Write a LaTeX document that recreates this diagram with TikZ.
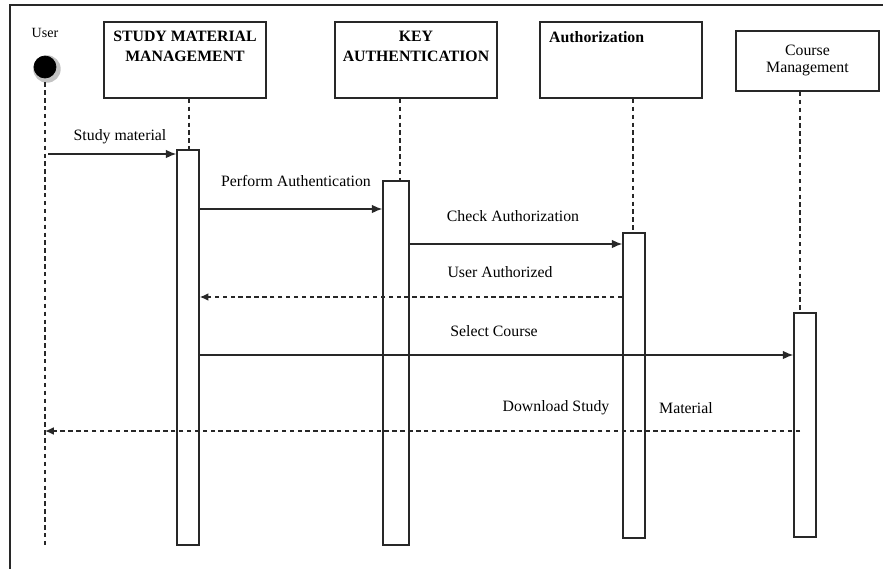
\documentclass[tikz,border=0pt]{standalone}
\usepackage{fontspec}
\setmainfont{Liberation Serif}
\usetikzlibrary{shapes,shadows,arrows.meta}
\definecolor{sq_line}{RGB}{40, 40, 40}
\definecolor{sq_shade}{RGB}{195, 195, 195}
\tikzstyle{obj}=[rectangle,draw=sq_line,fill=white,line width=0.9pt,inner sep=0pt]
\tikzstyle{act}=[rectangle,draw=sq_line,fill=white,line width=0.8pt,inner sep=0pt,
  minimum width=0.44cm]
\tikzstyle{life}=[draw=sq_line,line width=0.9pt,dash pattern=on 2.5pt off 2pt]
\tikzstyle{msg}=[draw=sq_line,line width=0.9pt,-{Latex[length=6pt,width=5pt]}]
\tikzstyle{ret}=[draw=sq_line,line width=0.9pt,dash pattern=on 2.5pt off 2pt,
  -{Latex[length=5pt,width=4.5pt]}]
\tikzstyle{ttl}=[font=\fontsize{9}{11.3}\selectfont\bfseries,align=center,inner sep=0pt]
\tikzstyle{txt}=[font=\fontsize{9}{11}\selectfont,inner sep=0pt]

\begin{document}
\begin{tikzpicture}[x=0.02cm,y=-0.02cm]
    \useasboundingbox (0,0) rectangle (883,569);
    % frame
    \coordinate (fr_tl) at (10,5);
    \coordinate (fr_tr) at (883,5);
    \coordinate (fr_bl) at (10,569);
    \draw[line width=0.9pt,sq_line] (fr_tr) -- (fr_tl) -- (fr_bl);

    % objects
    \node [style=obj,minimum width=3.24cm,minimum height=1.52cm,
      label={[ttl,anchor=north,yshift=-5.5pt]north:STUDY MATERIAL\\MANAGEMENT}] (obj1) at (185,60) {};
    \node [style=obj,minimum width=3.24cm,minimum height=1.52cm,
      label={[ttl,anchor=north,yshift=-5.5pt]north:KEY\\AUTHENTICATION}] (obj2) at (416,60) {};
    \node [style=obj,minimum width=3.24cm,minimum height=1.52cm,
      label={[ttl,anchor=north west,xshift=5.5pt,yshift=-5.5pt]north west:Authorization}] (obj3) at (621,60) {};
    \node [style=obj,minimum width=2.86cm,minimum height=1.2cm,txt,align=center,
      text depth=0pt] (obj4) at (807.5,61) {\raisebox{2.5pt}{\shortstack{Course\\[1pt]Management}}};

    % user
    \node [circle,fill=black,draw=black,minimum size=0.44cm,inner sep=0pt,
      drop shadow={shadow xshift=0.9pt,shadow yshift=-0.9pt,shadow scale=1.25,fill=sq_shade,opacity=1},
      label={[txt,font=\fontsize{8}{9}\selectfont,yshift=10pt]north:User}] (user) at (45,67) {};
    \coordinate (user_end) at (45,545);

    % activations
    \node [style=act,minimum height=7.9cm] (act1) at (188,347.5) {};
    \node [style=act,minimum width=0.52cm,minimum height=7.28cm] (act2) at (396,363) {};
    \node [style=act,minimum height=6.1cm] (act3) at (634,385.5) {};
    \node [style=act,minimum height=4.48cm] (act4) at (805,425) {};

    % lifelines
    \draw[life] (user.south) ++(0,4) -- (user_end);
    \draw[life] (obj1.south -| 189,0) -- (act1.north -| 189,0);
    \draw[life] (obj2.south -| 400,0) -- (act2.north -| 400,0);
    \draw[life] (obj3.south -| 633,0) -- (act3.north -| 633,0);
    \draw[life] (obj4.south -| 800,0) -- (act4.north -| 800,0);

    % message rows
    \coordinate (m1) at (0,154);
    \coordinate (m2) at (0,209);
    \coordinate (m3) at (0,244);
    \coordinate (m4) at (0,297);
    \coordinate (m5) at (0,355);
    \coordinate (m6) at (0,431);

    \draw[msg] (user |- m1) ++(3,0) -- (act1.west |- m1);
    \draw[msg] (act1.east |- m2) -- (act2.west |- m2);
    \draw[msg] (act2.east |- m3) -- (act3.west |- m3);
    \draw[ret] (act3.west |- m4) -- (act1.east |- m4);
    \draw[msg] (act1.east |- m5) -- (act4.west |- m5);
    \draw[ret] (800,431) -- (user |- m6);

    % message labels
    \node [style=txt] (l1) at (120,137) {Study material};
    \node [style=txt] (l2) at (296,181) {Perform Authentication};
    \node [style=txt] (l3) at (513,216) {Check Authorization};
    \node [style=txt] (l4) at (500,272) {User Authorized};
    \node [style=txt] (l5) at (494,331) {Select Course};
    \node [style=txt] (l6a) at (556,408) {Download Study};
    \node [style=txt] (l6b) at (686,408) {Material};
\end{tikzpicture}
\end{document}
